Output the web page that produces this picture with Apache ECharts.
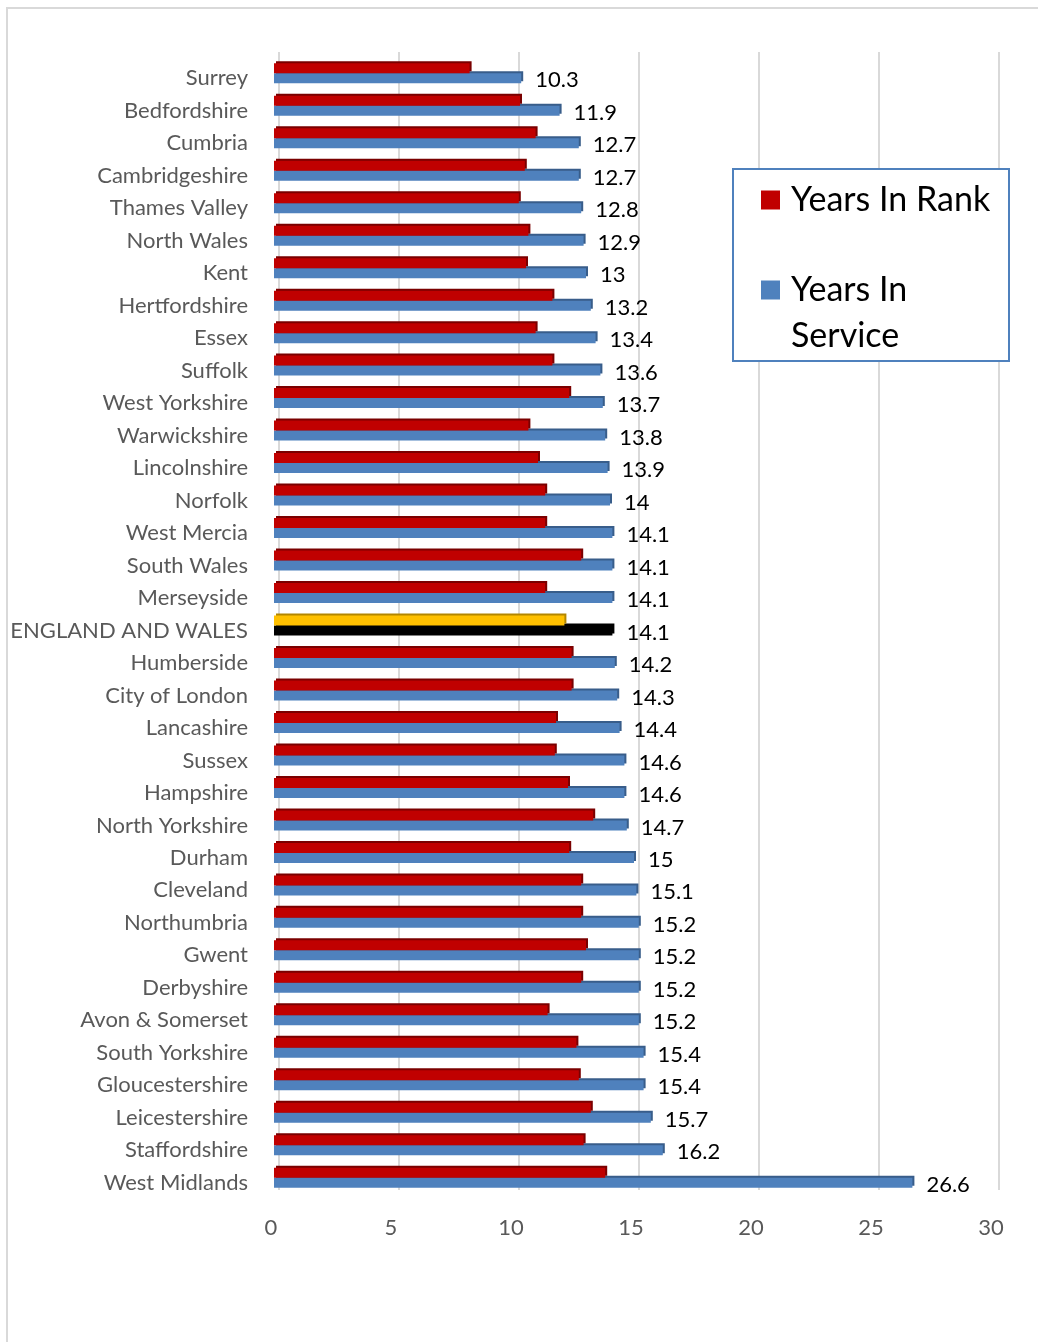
<!DOCTYPE html>
<html>
<head>
<meta charset="utf-8">
<script src="https://cdn.jsdelivr.net/npm/echarts@6/dist/echarts.min.js"></script>
<style>
  html, body { margin: 0; padding: 0; background: #fff; }
  #chart { width: 1038px; height: 1342px; }
</style>
</head>
<body>
<div id="chart"></div>
<script>
const forces = ['Surrey', 'Bedfordshire', 'Cumbria', 'Cambridgeshire', 'Thames Valley', 'North Wales', 'Kent',
  'Hertfordshire', 'Essex', 'Suffolk', 'West Yorkshire', 'Warwickshire', 'Lincolnshire', 'Norfolk', 'West Mercia',
  'South Wales', 'Merseyside', 'ENGLAND AND WALES', 'Humberside', 'City of London', 'Lancashire', 'Sussex',
  'Hampshire', 'North Yorkshire', 'Durham', 'Cleveland', 'Northumbria', 'Gwent', 'Derbyshire', 'Avon & Somerset',
  'South Yorkshire', 'Gloucestershire', 'Leicestershire', 'Staffordshire', 'West Midlands']
const yearsInRank = [8.15, 10.25, 10.9, 10.45, 10.2, 10.6, 10.5, 11.6, 10.9, 11.6, 12.3, 10.6, 11.0, 11.3, 11.3,
  12.8, 11.3, 12.1, 12.4, 12.4, 11.75, 11.7, 12.25, 13.3, 12.3, 12.8, 12.8, 13.0, 12.8, 11.4,
  12.6, 12.7, 13.2, 12.9, 13.8]
const yearsInService = [10.3, 11.9, 12.7, 12.7, 12.8, 12.9, 13, 13.2, 13.4, 13.6, 13.7, 13.8, 13.9, 14, 14.1,
  14.1, 14.1, 14.1, 14.2, 14.3, 14.4, 14.6, 14.6, 14.7, 15, 15.1, 15.2, 15.2, 15.2, 15.2,
  15.4, 15.4, 15.7, 16.2, 26.6]
const xTicks = [0, 5, 10, 15, 20, 25, 30]
const highlight = 'ENGLAND AND WALES'

const font = 'Lato, "Open Sans", sans-serif'
const chart = echarts.init(document.getElementById('chart'))

// highlighted row gets its own colours
const rankData = yearsInRank.map((v, i) => forces[i] === highlight
  ? { value: v, itemStyle: { color: '#FFC000', shadowColor: '#B38600' } } : v)
const serviceData = yearsInService.map((v, i) => forces[i] === highlight
  ? { value: v, itemStyle: { color: '#000000', shadowColor: '#000000' } } : v)

chart.setOption({
  animation: false,
  graphic: [
    {
      type: 'rect', z: 1,
      shape: { x: 7, y: 8, width: 1040, height: 1340 },
      style: { fill: 'none', stroke: '#D9D9D9', lineWidth: 2 }
    },
    {
      type: 'rect', z: 3,
      shape: { x: 733, y: 169, width: 276, height: 192 },
      style: { fill: '#fff', stroke: '#4F81BD', lineWidth: 2 }
    }
  ],
  grid: [
    { left: 274, width: 720, top: 57, bottom: 148 },
    // gridlines sit a few px behind the bars (3d depth)
    { left: 279, width: 720, top: 52, height: 1138 }
  ],
  legend: [
    {
      z: 10,
      left: 761,
      top: 183,
      padding: 0,
      icon: 'rect',
      itemWidth: 19,
      itemHeight: 19,
      data: ['Years In Rank'],
      textStyle: { fontFamily: font, fontSize: 34, color: '#000', padding: [0, 0, 0, 6] }
    },
    {
      z: 10,
      left: 761,
      top: 221,
      padding: 0,
      icon: 'rect',
      itemWidth: 19,
      itemHeight: 19,
      data: ['Years In Service'],
      formatter: () => '\nYears In\nService',
      textStyle: { fontFamily: font, fontSize: 34, lineHeight: 46, color: '#000', padding: [0, 0, 0, 6] }
    }
  ],
  xAxis: [
    {
      type: 'value',
      gridIndex: 0,
      min: xTicks[0],
      max: xTicks[xTicks.length - 1],
      interval: 5,
      axisLine: { show: false },
      axisTick: { show: false },
      splitLine: { show: false },
      axisLabel: { color: '#595959', fontFamily: font, fontSize: 22, margin: 23, padding: [0, 6, 0, 0] }
    },
    {
      type: 'value',
      gridIndex: 1,
      min: xTicks[0],
      max: xTicks[xTicks.length - 1],
      interval: 5,
      axisLine: { show: false },
      axisTick: { show: false },
      axisLabel: { show: false },
      splitLine: { lineStyle: { color: '#D9D9D9', width: 2 } }
    }
  ],
  yAxis: [
    {
      type: 'category',
      gridIndex: 0,
      inverse: true,
      data: forces,
      axisLine: { show: false },
      axisTick: { show: false },
      axisLabel: {
        color: '#595959', fontFamily: font, fontSize: 22, margin: 26,
        verticalAlign: 'top', lineHeight: 10
      }
    },
    {
      type: 'value',
      gridIndex: 1,
      show: false,
      min: 0,
      max: 1,
      splitLine: { show: false }
    }
  ],
  series: [
    {
      name: 'Years In Rank',
      type: 'bar',
      z: 3,
      barWidth: 10,
      barGap: '0%',
      data: rankData,
      itemStyle: { color: '#C00000', shadowColor: '#7A0000', shadowOffsetX: 2, shadowOffsetY: -2 }
    },
    {
      name: 'Years In Service',
      type: 'bar',
      z: 2,
      barWidth: 10,
      barGap: '0%',
      data: serviceData,
      itemStyle: { color: '#4F81BD', shadowColor: '#385D8A', shadowOffsetX: 2, shadowOffsetY: -2 },
      label: {
        show: true,
        position: 'right',
        distance: 14,
        offset: [0, 2],
        color: '#000',
        fontFamily: font,
        fontSize: 22
      }
    }
  ]
})
</script>
</body>
</html>
